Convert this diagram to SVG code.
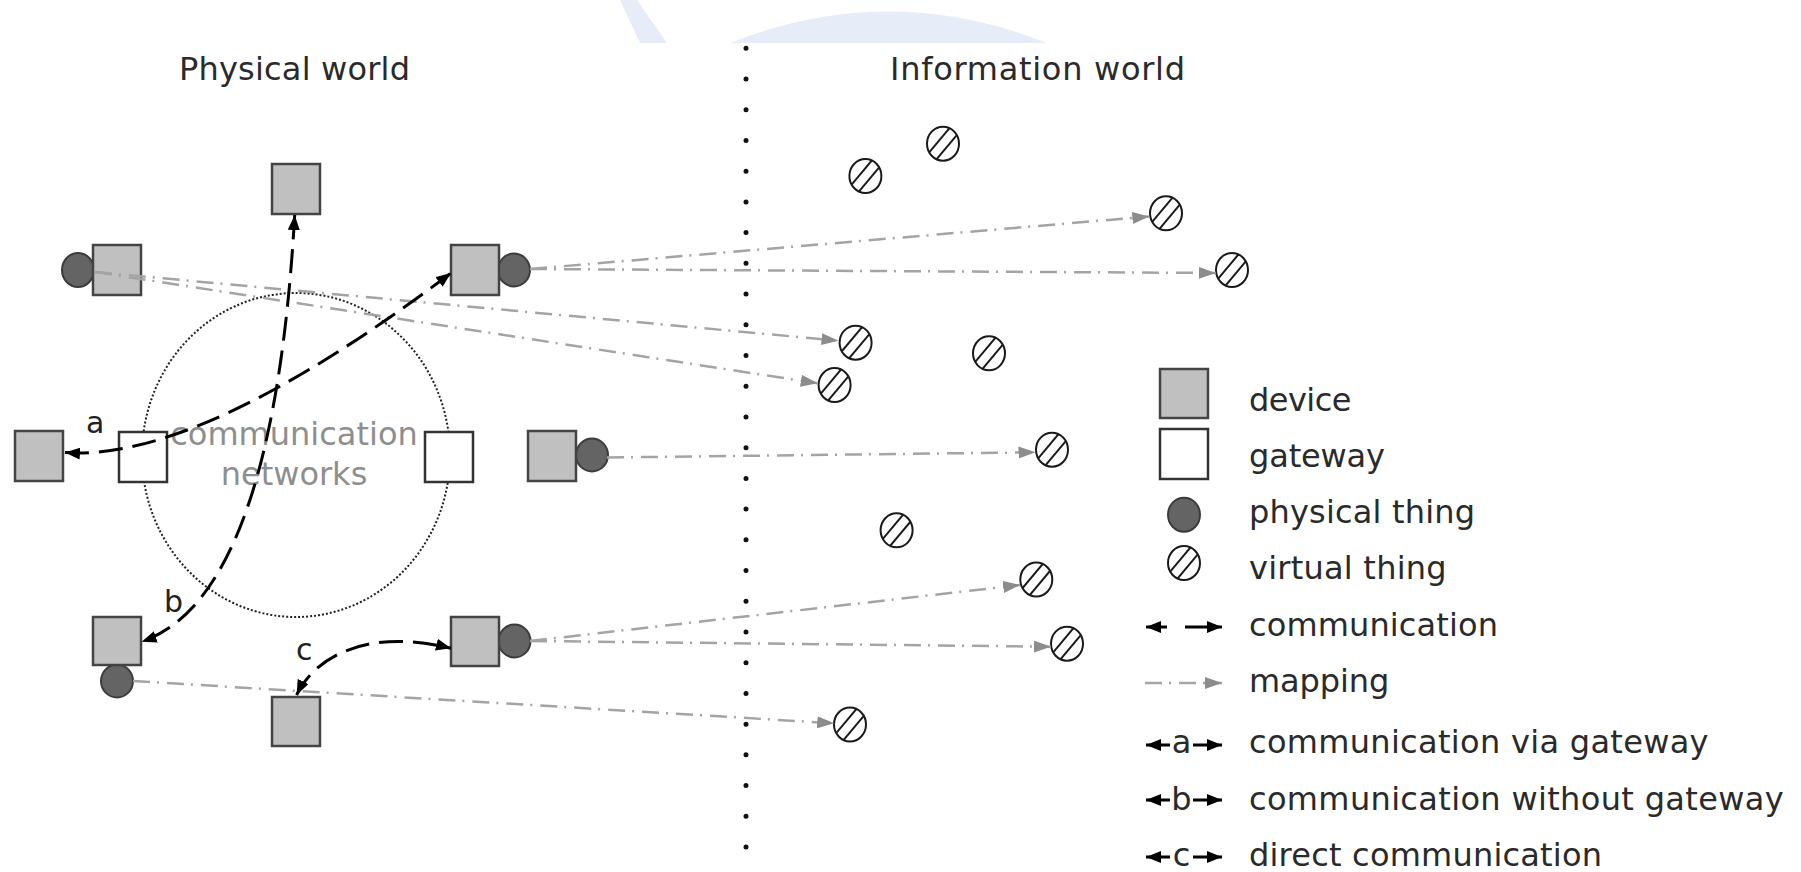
<svg xmlns="http://www.w3.org/2000/svg" xmlns:xlink="http://www.w3.org/1999/xlink" width="1801" height="872" viewBox="0 0 1801 872">
<style>
  text { font-family: "DejaVu Sans", "Liberation Sans", sans-serif; }
  .title { font-size: 32px; fill: #2a2a2a; }
  .leg { font-size: 32px; fill: #2a2a2a; }
  .lbl { font-size: 30px; fill: #222; }
  .net { font-size: 32px; fill: #8e8e8e; }
  .dev { fill: #c0c0c0; stroke: #444; stroke-width: 2.5; }
  .gw { fill: #fff; stroke: #333; stroke-width: 2.5; }
  .pt { fill: #646464; stroke: #3c3c3c; stroke-width: 2; }
  .comm { fill: none; stroke: #000; stroke-width: 3; stroke-dasharray: 24 10; }
  .map { fill: none; stroke: #a4a4a4; stroke-width: 2.5; stroke-dasharray: 17 7 2 8; }
</style>
<defs>
  <marker id="ab" viewBox="0 0 15 12" refX="15" refY="6" markerWidth="15" markerHeight="12" markerUnits="userSpaceOnUse" orient="auto-start-reverse">
    <path d="M0,0 L15,6 L0,12 Z" fill="#000"/>
  </marker>
  <marker id="ag" viewBox="0 0 17 12" refX="17" refY="6" markerWidth="17" markerHeight="12" markerUnits="userSpaceOnUse" orient="auto">
    <path d="M0,0 L17,6 L0,12 Z" fill="#8c8c8c"/>
  </marker>
  <clipPath id="vc" clipPathUnits="userSpaceOnUse"><ellipse cx="0" cy="0" rx="16" ry="17"/></clipPath>
  <g id="vt">
    <ellipse cx="0" cy="0" rx="16" ry="17" fill="#fff"/>
    <g clip-path="url(#vc)" stroke="#1a1a1a" stroke-width="2">
      <line x1="-19.9" y1="15.9" x2="12.2" y2="-22.4"/>
      <line x1="-12.2" y1="22.4" x2="19.9" y2="-15.9"/>
    </g>
    <ellipse cx="0" cy="0" rx="16" ry="17" fill="none" stroke="#1a1a1a" stroke-width="2"/>
  </g>
</defs>
<rect width="1801" height="872" fill="#fff"/>
<!-- watermark -->
<g id="watermark" fill="#e7edf8">
  <polygon points="620,0 637,0 667,43 640,43"/>
  <path d="M730,43 Q888,-20 1047,43 Z"/>
</g>
<!-- titles -->
<text class="title" x="179" y="80" textLength="231">Physical world</text>
<text class="title" x="890" y="80" textLength="295">Information world</text>
<!-- separator -->
<line id="separator" x1="746" y1="48.3" x2="746" y2="850" stroke="#111" stroke-width="5" stroke-linecap="round" stroke-dasharray="0 30.72"/>
<!-- communication networks -->
<g id="network">
  <ellipse cx="296" cy="455" rx="154" ry="162" fill="none" stroke="#222" stroke-width="2" stroke-dasharray="2 2"/>
  <text class="net" x="294" y="445" text-anchor="middle">communication</text>
  <text class="net" x="294" y="485" text-anchor="middle">networks</text>
</g>
<!-- physical things -->
<g id="pt1"><ellipse class="pt" cx="78" cy="270" rx="16" ry="17"/></g>
<g id="pt2"><ellipse class="pt" cx="514" cy="270" rx="16" ry="16.5"/></g>
<g id="pt3"><ellipse class="pt" cx="592" cy="455" rx="16" ry="16.5"/></g>
<g id="pt4"><ellipse class="pt" cx="117" cy="681" rx="16" ry="16.5"/></g>
<g id="pt5"><ellipse class="pt" cx="514.5" cy="641" rx="16" ry="16.5"/></g>
<!-- devices -->
<g id="dev-top"><rect class="dev" x="272" y="164" width="48" height="50"/></g>
<g id="dev-tl"><rect class="dev" x="93" y="245" width="48" height="50"/></g>
<g id="dev-tr"><rect class="dev" x="451" y="245" width="48" height="50"/></g>
<g id="dev-ml"><rect class="dev" x="15" y="431" width="48" height="50"/></g>
<g id="dev-mr"><rect class="dev" x="528" y="431" width="48" height="50"/></g>
<g id="dev-bl"><rect class="dev" x="93" y="617" width="48" height="48"/></g>
<g id="dev-br"><rect class="dev" x="451" y="617" width="48" height="49"/></g>
<g id="dev-bc"><rect class="dev" x="272" y="697" width="48" height="49"/></g>
<!-- gateways -->
<g id="gw-l"><rect class="gw" x="119" y="432" width="48" height="50"/></g>
<g id="gw-r"><rect class="gw" x="425" y="432" width="48" height="50"/></g>
<!-- virtual things -->
<g id="vt1"><use href="#vt" xlink:href="#vt" x="943" y="143.7"/></g>
<g id="vt2"><use href="#vt" xlink:href="#vt" x="865.4" y="176"/></g>
<g id="vt3"><use href="#vt" xlink:href="#vt" x="1166" y="213.3"/></g>
<g id="vt4"><use href="#vt" xlink:href="#vt" x="1232" y="270"/></g>
<g id="vt5"><use href="#vt" xlink:href="#vt" x="855.6" y="342.7"/></g>
<g id="vt6"><use href="#vt" xlink:href="#vt" x="989" y="353.3"/></g>
<g id="vt7"><use href="#vt" xlink:href="#vt" x="834.6" y="385"/></g>
<g id="vt8"><use href="#vt" xlink:href="#vt" x="1052" y="449.7"/></g>
<g id="vt9"><use href="#vt" xlink:href="#vt" x="896.6" y="530.3"/></g>
<g id="vt10"><use href="#vt" xlink:href="#vt" x="1036.3" y="579.5"/></g>
<g id="vt11"><use href="#vt" xlink:href="#vt" x="1067" y="643.7"/></g>
<g id="vt12"><use href="#vt" xlink:href="#vt" x="850" y="724.5"/></g>
<!-- connectors -->
<g id="connectors">
  <path class="map" d="M95,272 L838.5,340.7" marker-end="url(#ag)"/>
  <path class="map" d="M95,272 L817.7,383.3" marker-end="url(#ag)"/>
  <path class="map" d="M530,269 L1149.3,216.5" marker-end="url(#ag)"/>
  <path class="map" d="M530,269 L1215.7,273" marker-end="url(#ag)"/>
  <path class="map" d="M607,457.5 L1035.5,452.3" marker-end="url(#ag)"/>
  <path class="map" d="M530,641 L1020.2,585" marker-end="url(#ag)"/>
  <path class="map" d="M530,641 L1050.8,646.7" marker-end="url(#ag)"/>
  <path class="map" d="M133,681 L834.2,723.3" marker-end="url(#ag)"/>
  <path class="comm" d="M65,452.5 Q200,462 451,273" marker-start="url(#ab)" marker-end="url(#ab)"/>
  <path class="comm" d="M294.7,215 Q273,597 141.6,641.7" marker-start="url(#ab)" marker-end="url(#ab)"/>
  <path class="comm" d="M296.6,695 C316,655 370,628 451,648.3" marker-start="url(#ab)" marker-end="url(#ab)"/>
</g>
<!-- labels -->
<text class="lbl" x="86" y="433">a</text>
<text class="lbl" x="164" y="612">b</text>
<text class="lbl" x="296" y="660">c</text>
<!-- legend -->
<g id="legend">
  <g id="leg-device"><rect class="dev" x="1160" y="369" width="48" height="49"/><text class="leg" x="1249" y="411" textLength="102.5">device</text></g>
  <g id="leg-gateway"><rect class="gw" x="1160" y="429" width="48" height="50"/><text class="leg" x="1249" y="467" textLength="136">gateway</text></g>
  <g id="leg-pt"><ellipse class="pt" cx="1184" cy="514.7" rx="16" ry="17"/><text class="leg" x="1249" y="523" textLength="226">physical thing</text></g>
  <g id="leg-vt"><use href="#vt" xlink:href="#vt" x="1184" y="563"/><text class="leg" x="1249" y="579" textLength="197.6">virtual thing</text></g>
  <g id="leg-comm"><path d="M1146,627 L1222,627" fill="none" stroke="#000" stroke-width="3" stroke-dasharray="21 18 37" marker-start="url(#ab)" marker-end="url(#ab)"/><text class="leg" x="1249" y="636" textLength="249">communication</text></g>
  <g id="leg-map"><path d="M1145,683 L1222,683" fill="none" stroke="#a4a4a4" stroke-width="2.5" stroke-dasharray="17 7 2 8" marker-end="url(#ag)"/><text class="leg" x="1249" y="692" textLength="140.3">mapping</text></g>
  <g id="leg-a"><path d="M1146,745 L1222,745" fill="none" stroke="#000" stroke-width="3" stroke-dasharray="24 23 29" marker-start="url(#ab)" marker-end="url(#ab)"/><text class="leg" x="1181.5" y="753" text-anchor="middle" font-size="28">a</text><text class="leg" x="1249" y="753" textLength="459.5">communication via gateway</text></g>
  <g id="leg-b"><path d="M1146,800 L1222,800" fill="none" stroke="#000" stroke-width="3" stroke-dasharray="24 23 29" marker-start="url(#ab)" marker-end="url(#ab)"/><text class="leg" x="1181.5" y="810" text-anchor="middle" font-size="28">b</text><text class="leg" x="1249" y="810" textLength="534.6">communication without gateway</text></g>
  <g id="leg-c"><path d="M1146,857 L1222,857" fill="none" stroke="#000" stroke-width="3" stroke-dasharray="24 23 29" marker-start="url(#ab)" marker-end="url(#ab)"/><text class="leg" x="1181.5" y="866" text-anchor="middle" font-size="28">c</text><text class="leg" x="1249" y="866" textLength="353">direct communication</text></g>
</g>
</svg>
